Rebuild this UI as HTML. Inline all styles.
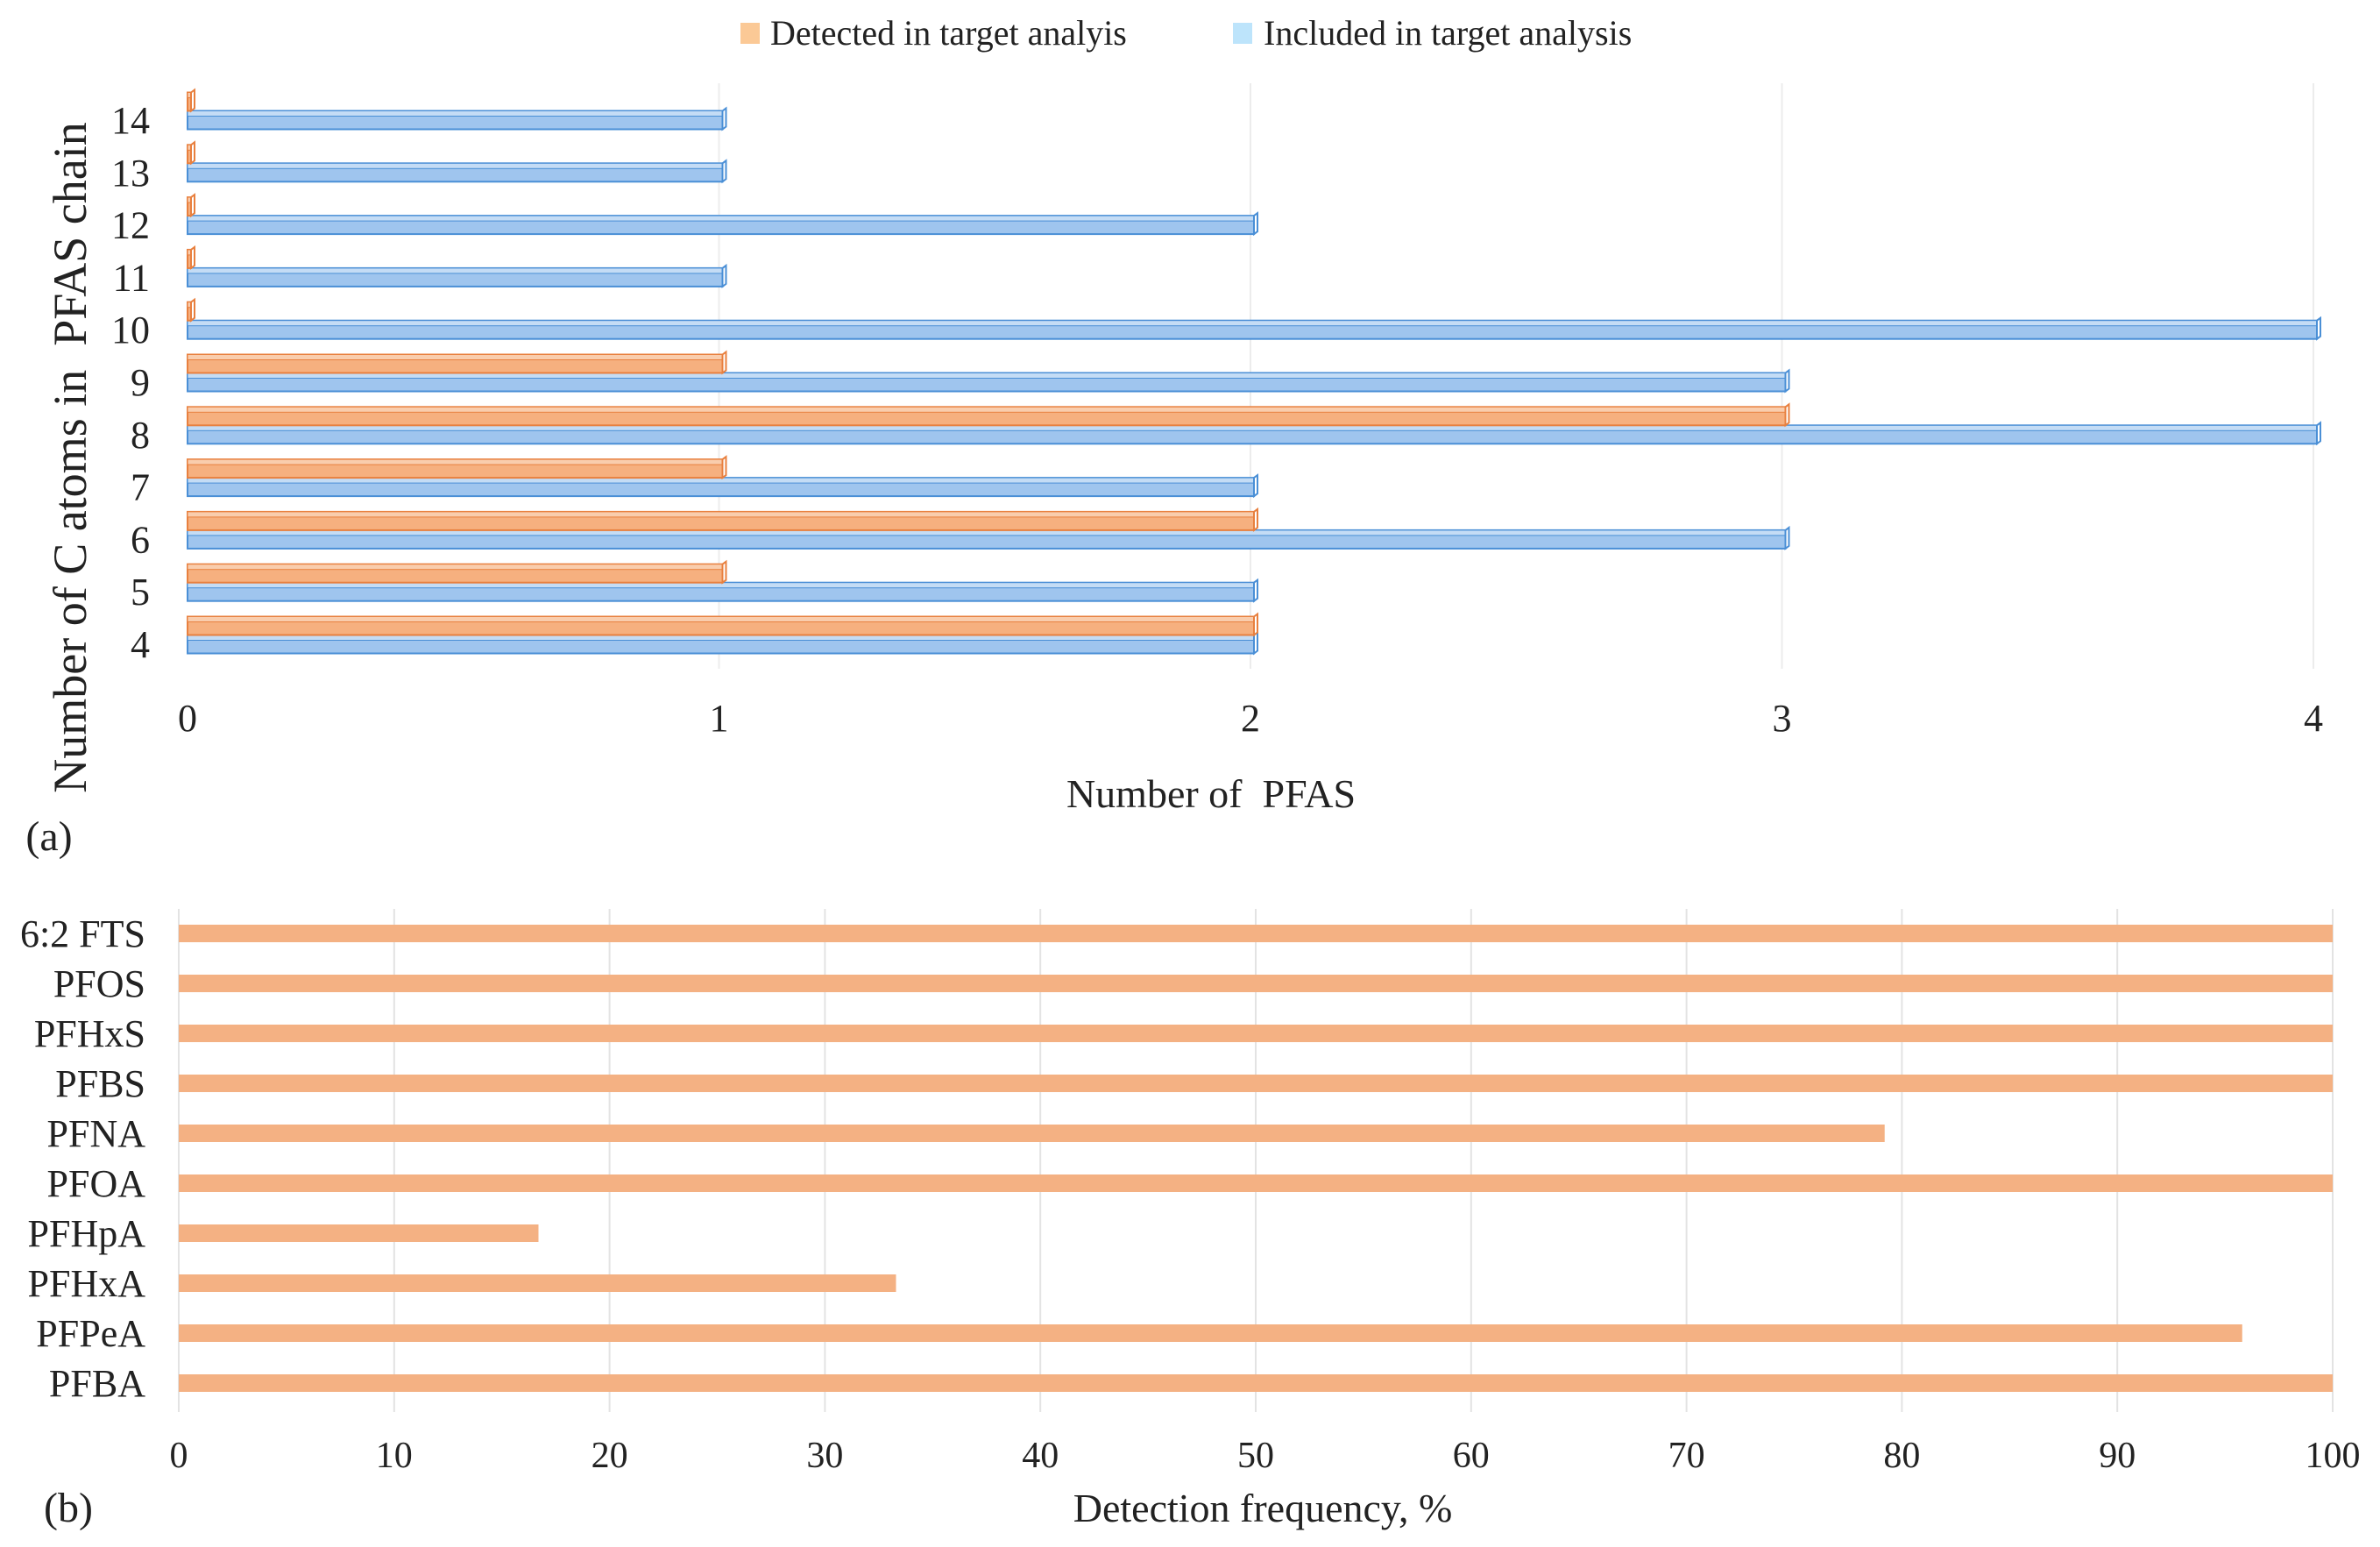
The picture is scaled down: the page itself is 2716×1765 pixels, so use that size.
<!DOCTYPE html>
<html><head><meta charset="utf-8"><style>
html,body{margin:0;padding:0;background:#fff;}
svg{display:block;font-family:"Liberation Serif",serif;}
</style></head><body>
<svg id="c" width="2716" height="1765" viewBox="0 0 2716 1765">
<g id="a"></g>
<g id="b"></g>
</svg>
<script>
const NS="http://www.w3.org/2000/svg";
// Chart (a)
const aCategories=["4","5","6","7","8","9","10","11","12","13","14"];
const aIncluded=[2,2,3,2,4,3,4,1,2,1,1];
const aDetected=[2,1,2,1,3,1,0,0,0,0,0];
const aTicks=[0,1,2,3,4];
// Chart (b)
const bCategories=["PFBA","PFPeA","PFHxA","PFHpA","PFOA","PFNA","PFBS","PFHxS","PFOS","6:2 FTS"];
const bValues=[100,95.8,33.3,16.7,100,79.2,100,100,100,100];
const bTicks=[0,10,20,30,40,50,60,70,80,90,100];

function mk(tag,attrs,parent){const e=document.createElementNS(NS,tag);for(const k in attrs)e.setAttribute(k,attrs[k]);parent.appendChild(e);return e;}
function txt(s,attrs,parent){const e=mk("text",attrs,parent);e.textContent=s;return e;}

const A=document.getElementById("a");
const ax=v=>214+v*606.5;
const ay=i=>735-i*59.8;
aTicks.forEach(t=>{
  if(t>0){const l=mk("line",{x1:ax(t),x2:ax(t),y1:95,y2:763,stroke:"#ececec","stroke-width":2},A);
  
  }
  const tl=txt(String(t),{x:ax(t),y:834,"font-size":44,"text-anchor":"middle",fill:"#222"},A);
  
  
});
function bar3d(x0,x1,cy,h,fill,top,stroke,name){
  const g=mk("g",{},A);
  
  
  const w=Math.max(x1-x0,0);
  mk("rect",{x:x0,y:cy-h/2,width:w+4,height:h,fill:fill,stroke:stroke,"stroke-width":2},g);
  mk("rect",{x:x0,y:cy-h/2,width:w+4,height:6,fill:top,stroke:stroke,"stroke-width":1},g);
  mk("polygon",{points:`${x0+w+4},${cy-h/2} ${x0+w+8},${cy-h/2-3} ${x0+w+8},${cy+h/2-3} ${x0+w+4},${cy+h/2}`,fill:"#fff",stroke:stroke,"stroke-width":2},g);
}
aCategories.forEach((c,i)=>{
  const y=ay(i);
  bar3d(ax(0),ax(aIncluded[i]),y,21,"#9fc5ee","#c4dcf5","#4a8fd6","bar-included-"+c);
  bar3d(ax(0),ax(aDetected[i]),y-21,21,"#f6b07f","#f9cdad","#e8803f","bar-detected-"+c);
  const tl=txt(c,{x:171,y:y+15,"font-size":44,"text-anchor":"end",fill:"#222"},A);
  
  
});
let t;
t=txt("Number of C atoms in \u00a0PFAS chain",{x:0,y:0,"font-size":54,"text-anchor":"middle",fill:"#222",transform:"translate(98,522) rotate(-90)"},A);

t=txt("Number of \u00a0PFAS",{x:1382,y:921,"font-size":46,"text-anchor":"middle",fill:"#222"},A);

t=txt("(a)",{x:56,y:970,"font-size":48,"text-anchor":"middle",fill:"#222"},A);

// legend
let lg=mk("g",{},A);

mk("rect",{x:845,y:26,width:22,height:24,fill:"#fbc996"},lg);
t=txt("Detected in target analyis",{x:879,y:51,"font-size":40,fill:"#222"},lg);

mk("rect",{x:1407,y:26,width:22,height:24,fill:"#bde4fb"},lg);
t=txt("Included in target analysis",{x:1442,y:51,"font-size":40,fill:"#222"},lg);


// Chart b
const B=document.getElementById("b");
const bx=v=>204+v*24.58;
const by=i=>1578-i*57.0;
bTicks.forEach(tk=>{
  const l=mk("line",{x1:bx(tk),x2:bx(tk),y1:1037,y2:1611,stroke:"#e3e3e3","stroke-width":2},B);
  
  
  const tl=txt(String(tk),{x:bx(tk),y:1674,"font-size":42,"text-anchor":"middle",fill:"#222"},B);
  
  
});
bCategories.forEach((c,i)=>{
  const y=by(i);
  const r=mk("rect",{x:bx(0),y:y-10,width:bx(bValues[i])-bx(0),height:20,fill:"#f4b183"},B);
  
  
  const tl=txt(c,{x:166,y:y+15,"font-size":44,"text-anchor":"end",fill:"#222"},B);
  
  
});
t=txt("Detection frequency, %",{x:1441,y:1736,"font-size":46,"text-anchor":"middle",fill:"#222"},B);

t=txt("(b)",{x:78,y:1736,"font-size":48,"text-anchor":"middle",fill:"#222"},B);

</script>
</body></html>
